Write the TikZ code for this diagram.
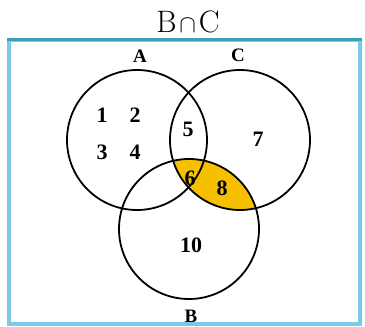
\documentclass[tikz,border=0pt]{standalone}
\usepackage{fontspec}
\newfontfamily\numfont{Liberation Serif}
\definecolor{frameblue}{RGB}{125,200,232}
\definecolor{frametop}{RGB}{60,160,180}
\definecolor{gold}{RGB}{246,192,0}
\begin{document}
\begin{tikzpicture}[x=1pt,y=-1pt,
  ring/.style={draw=black,line width=1.8pt},
  num/.style={font=\numfont\bfseries\fontsize{22}{22}\selectfont,inner sep=0pt},
  setlab/.style={font=\numfont\bfseries\fontsize{19}{19}\selectfont,inner sep=0pt}]
\useasboundingbox (0,0) rectangle (365,327);
% frame
\fill[white] (9,40) rectangle (360,324);
\draw[frameblue,line width=3.5pt] (9,40) rectangle (360,324);
\draw[frametop,line width=2.5pt] (7,39.5) -- (362,39.5);
% title
\node[inner sep=0pt,font=\fontsize{31}{31}\selectfont] (title) at (188,22) {$\mathrm{B}\mkern-2mu\cap\mkern-2mu\mathrm{C}$};
% circle centres
\coordinate (ca) at (137,140);
\coordinate (cc) at (240,140);
\coordinate (cb) at (189,229);
% shaded B cap C
\begin{scope}
  \clip (cc) circle (70);
  \fill[gold] (cb) circle (70);
\end{scope}
\node[ring,circle,minimum size=140pt,inner sep=0pt] (A) at (ca) {};
\node[ring,circle,minimum size=140pt,inner sep=0pt] (C) at (cc) {};
\node[ring,circle,minimum size=140pt,inner sep=0pt] (B) at (cb) {};
% set labels
\node[setlab] (la) at (140,56) {A};
\node[setlab] (lc) at (238,55) {C};
\node[setlab] (lb) at (191,316) {B};
% elements
\node[num] (n1) at (102,115) {1};
\node[num] (n2) at (135,115) {2};
\node[num] (n3) at (102,152) {3};
\node[num] (n4) at (135,152) {4};
\node[num] (n5) at (188,129) {5};
\node[num] (n7) at (258,139) {7};
\node[num] (n6) at (190,178) {6};
\node[num] (n8) at (222,188) {8};
\node[num] (n10) at (191,245) {10};
\end{tikzpicture}
\end{document}
